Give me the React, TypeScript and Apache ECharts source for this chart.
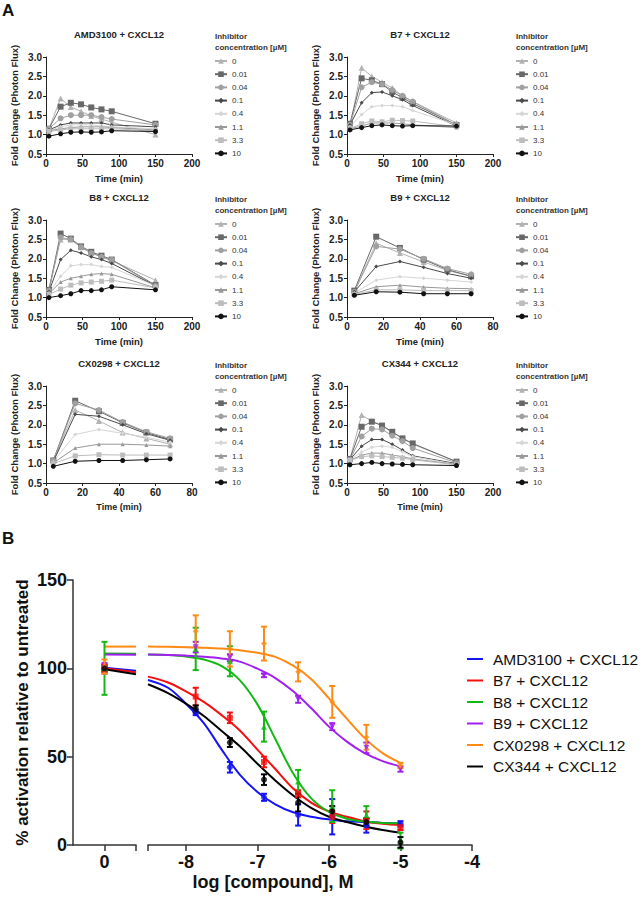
import React, { useEffect, useRef } from "react";
import * as echarts from "echarts";

const FONT = "'Liberation Sans', Arial, Helvetica, sans-serif";

// ---------------- Panel A data ----------------
const CONCENTRATIONS = ["0", "0.01", "0.04", "0.1", "0.4", "1.1", "3.3", "10"];
const TIMES_LONG = [4, 20, 34, 48, 62, 76, 90, 150];
const TIMES_SHORT = [4, 16, 29, 42, 55, 68];

const AMD3100_FOLD = [
  [1.15, 1.93, 1.71, 1.6, 1.48, 1.4, 1.32, 1.0],
  [1.15, 1.72, 1.82, 1.78, 1.7, 1.65, 1.6, 1.28],
  [1.15, 1.42, 1.5, 1.5, 1.5, 1.45, 1.4, 1.25],
  [1.12, 1.25, 1.3, 1.3, 1.3, 1.3, 1.25, 1.2],
  [1.1, 1.2, 1.25, 1.25, 1.25, 1.22, 1.2, 1.15],
  [1.1, 1.15, 1.18, 1.2, 1.2, 1.2, 1.18, 1.12],
  [1.08, 1.12, 1.15, 1.15, 1.15, 1.15, 1.15, 1.1],
  [0.96, 1.02, 1.06, 1.07, 1.06, 1.07, 1.1, 1.08],
];
const B7_FOLD = [
  [1.2, 2.72, 2.5, 2.35, 2.2, 2.0, 1.85, 1.3],
  [1.28, 2.45, 2.4, 2.3, 2.1, 1.95, 1.8, 1.25],
  [1.25, 2.22, 2.35, 2.3, 2.15, 2.0, 1.85, 1.25],
  [1.25, 1.82, 2.08, 2.1, 2.0, 1.9, 1.75, 1.22],
  [1.2, 1.52, 1.72, 1.75, 1.75, 1.72, 1.62, 1.25],
  [1.15, 1.22, 1.3, 1.3, 1.3, 1.28, 1.25, 1.18],
  [1.15, 1.28, 1.35, 1.33, 1.37, 1.36, 1.35, 1.2],
  [1.12, 1.18, 1.23, 1.25, 1.23, 1.22, 1.23, 1.22],
];
const B8_FOLD = [
  [1.2, 2.5, 2.5, 2.3, 2.15, 2.05, 1.95, 1.45],
  [1.2, 2.65, 2.52, 2.32, 2.18, 2.08, 1.98, 1.32],
  [1.18, 2.55, 2.5, 2.3, 2.15, 2.05, 1.97, 1.3],
  [1.15, 1.98, 2.22, 2.15, 2.05, 1.98, 1.88, 1.3],
  [1.12, 1.55, 1.82, 1.85, 1.85, 1.8, 1.78, 1.3],
  [1.1, 1.4, 1.5, 1.55, 1.6, 1.62, 1.6, 1.25],
  [1.08, 1.22, 1.32, 1.38, 1.4, 1.42, 1.45, 1.25],
  [1.0, 1.05, 1.1, 1.18, 1.18, 1.2, 1.28, 1.2],
];
const B9_FOLD = [
  [1.15, 2.4, 2.15, 1.92, 1.7, 1.55],
  [1.18, 2.57, 2.28, 1.98, 1.72, 1.55],
  [1.15, 2.32, 2.25, 2.0, 1.75, 1.6],
  [1.15, 1.8, 1.93, 1.78, 1.62, 1.5],
  [1.12, 1.45, 1.54, 1.5, 1.45, 1.4],
  [1.1, 1.28, 1.32, 1.27, 1.24, 1.23],
  [1.08, 1.2, 1.2, 1.18, 1.18, 1.18],
  [1.06, 1.15, 1.14, 1.1, 1.1, 1.1],
];
const CX0298_FOLD = [
  [1.1, 2.38, 2.1, 1.8, 1.65, 1.5],
  [1.08, 2.62, 2.35, 2.05, 1.8, 1.62],
  [1.08, 2.55, 2.38, 2.07, 1.82, 1.65],
  [1.05, 2.27, 2.22, 2.0, 1.77, 1.6],
  [1.05, 1.75, 1.88, 1.78, 1.68, 1.55],
  [1.02, 1.4, 1.5, 1.5, 1.48, 1.45],
  [1.0, 1.2, 1.23, 1.22, 1.22, 1.22],
  [0.93, 1.06, 1.08, 1.08, 1.1, 1.12],
];
const CX344_FOLD = [
  [1.12, 2.25, 2.1, 1.98, 1.8, 1.65, 1.5, 1.05],
  [1.12, 1.95, 2.08, 1.98, 1.82, 1.65, 1.52, 1.05],
  [1.1, 1.7, 1.9, 1.88, 1.72, 1.58, 1.4, 1.02],
  [1.1, 1.45, 1.62, 1.62, 1.5, 1.35, 1.2, 1.0],
  [1.1, 1.3, 1.42, 1.45, 1.42, 1.3, 1.18, 0.98],
  [1.08, 1.22, 1.27, 1.27, 1.22, 1.18, 1.12, 0.98],
  [1.08, 1.18, 1.2, 1.18, 1.16, 1.14, 1.1, 0.97],
  [0.97, 1.0, 1.03, 1.0, 0.99, 0.98, 0.97, 0.95],
];

// ---------------- Panel B data ----------------
const COMPOUNDS = [
  "AMD3100 + CXCL12",
  "B7 + CXCL12",
  "B8 + CXCL12",
  "B9 + CXCL12",
  "CX0298 + CXCL12",
  "CX344 + CXCL12",
];
const LOG_CONC = [-7.863, -7.385, -6.908, -6.431, -5.954, -5.477, -5.0];
const AMD3100_MEAN = [75, 44, 27, 17, 16, 11, 12];
const AMD3100_ERR = [1.5, 3, 2, 6, 10, 4, 1.5];
const B7_MEAN = [84, 72, 47, 29, 16, 14, 10];
const B7_ERR = [5, 3, 3, 2, 3.5, 5, 1.5];
const B8_MEAN = [111, 104, 67, 36, 22, 17, 2.5];
const B8_ERR = [12, 8.5, 8.5, 6.5, 9, 5, 4.5];
const B9_MEAN = [112, 106, 96, 82.5, 67, 55, 43];
const B9_ERR = [3, 2, 1, 2, 2, 3, 1.5];
const CX0298_MEAN = [121, 111, 114, 98, 81, 61, 45];
const CX0298_ERR = [9, 10, 9.6, 5.4, 9, 7, 1.5];
const CX344_MEAN = [77, 58, 37, 24, 19, 13, 1.5];
const CX344_ERR = [2, 2.5, 3, 5, 3, 2, 3];
// untreated control (plotted at 0)
const CONTROL_MEAN = [100, 100, 100, 100, 101, 100];
const CONTROL_ERR = [2, 2, 15, 3, 4, 1];

// fitted curves
const CURVE_X = [-8.53, -8.25, -8, -7.75, -7.5, -7.25, -7, -6.75, -6.5, -6.25, -6, -5.75, -5.5, -5.25, -5];
const AMD3100_CURVE = [93.4, 89, 80, 69, 54, 40, 30, 23, 18.5, 16, 14.5, 13.5, 13, 12.5, 12.3];
const B7_CURVE = [95.3, 92, 87, 81, 73.5, 65, 54, 43, 32, 24, 19, 16, 13.5, 12, 11.3];
const B8_CURVE = [107.8, 107.5, 106.7, 105, 101.3, 93.5, 79.6, 60, 40.5, 26.5, 18.7, 14.9, 13.3, 12.5, 12.3];
const B9_CURVE = [107.8, 107.6, 107.2, 106.6, 105.6, 103.8, 99.8, 94.5, 87, 77.5, 67, 58.5, 52, 47.5, 44.5];
const CX0298_CURVE = [112.3, 112.2, 112, 111.7, 111.2, 110.3, 108.8, 106.5, 101.5, 94, 83, 71.5, 60.5, 52, 46.5];
const CX344_CURVE = [91, 86, 80, 73, 64.5, 56, 46, 36.5, 28, 21, 16, 13, 10.5, 8.5, 7];
const CONTROL_CURVE_X = [0, 0.45];
const CONTROL_CURVE = [
  [100.3, 98.6],
  [100, 97.8],
  [108.4, 108.3],
  [107.8, 107.7],
  [112.3, 112.3],
  [99.5, 96.6],
];

// ---------------- styles / layout ----------------
const CONC_COLORS = ["#b2b2b2", "#686868", "#a0a0a0", "#4a4a4a", "#d6d6d6", "#999999", "#bdbdbd", "#111111"];
const CONC_SYMBOLS = ["triangle", "rect", "circle", "diamond", "diamond", "triangle", "rect", "circle"];
const CONC_SIZES = [6, 6, 6, 4, 4, 4, 5, 5];
const COMPOUND_COLORS = ["#1414f5", "#f50f0f", "#14b814", "#a020f0", "#ff8a14", "#000000"];
const COMPOUND_SYMBOLS = ["circle", "rect", "triangle", "triangle", "diamond", "circle"];
const COMPOUND_ROTATE = [0, 0, 0, 180, 0, 0];

const PANELS = [
  { title: "AMD3100 + CXCL12", times: TIMES_LONG, values: AMD3100_FOLD, xMax: 200, xInt: 50, col: 0, row: 0 },
  { title: "B7 + CXCL12", times: TIMES_LONG, values: B7_FOLD, xMax: 200, xInt: 50, col: 1, row: 0 },
  { title: "B8 + CXCL12", times: TIMES_LONG, values: B8_FOLD, xMax: 200, xInt: 50, col: 0, row: 1 },
  { title: "B9 + CXCL12", times: TIMES_SHORT, values: B9_FOLD, xMax: 80, xInt: 20, col: 1, row: 1 },
  { title: "CX0298 + CXCL12", times: TIMES_SHORT, values: CX0298_FOLD, xMax: 80, xInt: 20, col: 0, row: 2 },
  { title: "CX344 + CXCL12", times: TIMES_LONG, values: CX344_FOLD, xMax: 200, xInt: 50, col: 1, row: 2 },
];
const COL_LEFT = [46, 347];
const ROW_TOP = [57, 220, 386];
const GW = 146;
const GH = 97;

export default function App() {
  const ref = useRef<HTMLDivElement>(null);

  useEffect(() => {
    if (!ref.current) return;
    const chart = echarts.init(ref.current, null, { renderer: "svg" });

    const grids: any[] = [];
    const xAxes: any[] = [];
    const yAxes: any[] = [];
    const series: any[] = [];
    const legends: any[] = [];
    const graphics: any[] = [];

    const axisTextA = { fontFamily: FONT, fontWeight: "bold", color: "#222" };

    PANELS.forEach((p, i) => {
      const left = COL_LEFT[p.col];
      const top = ROW_TOP[p.row];
      grids.push({ left, top, width: GW, height: GH });
      xAxes.push({
        type: "value",
        gridIndex: i,
        min: 0,
        max: p.xMax,
        interval: p.xInt,
        axisLine: { show: true, onZero: false, lineStyle: { color: "#222", width: 1 } },
        axisTick: { show: true, length: 3, lineStyle: { color: "#222" } },
        axisLabel: { ...axisTextA, fontSize: 10, margin: 4 },
        splitLine: { show: false },
        name: "Time (min)",
        nameLocation: "middle",
        nameGap: 19,
        nameTextStyle: { ...axisTextA, fontSize: p.row === 2 ? 9 : 9.5 },
      });
      yAxes.push({
        type: "value",
        gridIndex: i,
        min: 0.5,
        max: 3.0,
        interval: 0.5,
        axisLine: { show: true, onZero: false, lineStyle: { color: "#222", width: 1 } },
        axisTick: { show: true, length: 3, lineStyle: { color: "#222" } },
        axisLabel: { ...axisTextA, fontSize: 10, margin: 4, formatter: (v: number) => v.toFixed(1) },
        splitLine: { show: false },
        name: "Fold Change (Photon Flux)",
        nameLocation: "middle",
        nameGap: 27,
        nameTextStyle: { ...axisTextA, fontSize: 9.5 },
      });
      CONCENTRATIONS.forEach((c, j) => {
        series.push({
          type: "line",
          name: c,
          xAxisIndex: i,
          yAxisIndex: i,
          data: p.times.map((t, k) => [t, p.values[j][k]]),
          symbol: CONC_SYMBOLS[j],
          symbolSize: CONC_SIZES[j],
          showSymbol: true,
          lineStyle: { width: 1, color: CONC_COLORS[j] },
          itemStyle: { color: CONC_COLORS[j] },
          z: 2 + (j === 7 ? 2 : 0),
        });
      });
      legends.push({
        data: CONCENTRATIONS,
        orient: "vertical",
        left: left + 168,
        top: top - 1,
        padding: 0,
        itemWidth: 12,
        itemHeight: 7,
        itemGap: 3.2,
        textStyle: { fontFamily: FONT, fontSize: 8, lineHeight: 10, color: "#333" },
        selectedMode: false,
      });
      graphics.push({
        type: "text",
        x: left + GW / 2,
        y: top - 23,
        style: {
          text: p.title,
          font: `bold 9.5px ${FONT}`,
          fill: "#222",
          align: "center",
          textAlign: "center",
          verticalAlign: "middle",
          textVerticalAlign: "middle",
        },
      });
      graphics.push({
        type: "text",
        x: left + 169,
        y: top - 26.5,
        style: {
          text: "Inhibitor\nconcentration [\u00b5M]",
          font: `bold 8px ${FONT}`,
          lineHeight: 11,
          fill: "#333",
          verticalAlign: "top",
          textVerticalAlign: "top",
        },
      });
    });

    // ---- Panel B ----
    const gi0 = PANELS.length; // control segment
    const gi1 = PANELS.length + 1; // log segment
    grids.push({ left: 73, top: 580, width: 63, height: 265 });
    grids.push({ left: 148, top: 580, width: 324, height: 265 });
    const axisB = { color: "#333", width: 1.5 };
    const labelB = { fontFamily: FONT, fontWeight: "bold", fontSize: 18, color: "#111", lineHeight: 18 };
    xAxes.push({
      type: "value",
      gridIndex: gi0,
      min: -0.45,
      max: 0.45,
      axisLine: { show: true, onZero: false, lineStyle: axisB },
      axisTick: { show: true, length: 6, lineStyle: axisB, customValues: [0, 0.45] },
      axisLabel: { ...labelB, margin: 8, customValues: [0] },
      splitLine: { show: false },
    });
    xAxes.push({
      type: "value",
      gridIndex: gi1,
      min: -8.53,
      max: -4,
      axisLine: { show: true, onZero: false, lineStyle: axisB },
      axisTick: { show: true, length: 6, lineStyle: axisB, customValues: [-8.53, -8, -7, -6, -5, -4] },
      axisLabel: { ...labelB, margin: 8, customValues: [-8, -7, -6, -5, -4] },
      splitLine: { show: false },
    });
    yAxes.push({
      type: "value",
      gridIndex: gi0,
      min: 0,
      max: 150,
      interval: 50,
      axisLine: { show: true, onZero: false, lineStyle: axisB },
      axisTick: { show: true, length: 6, lineStyle: axisB },
      axisLabel: { ...labelB, margin: 6 },
      splitLine: { show: false },
      name: "% activation relative to untreated",
      nameLocation: "middle",
      nameGap: 42,
      nameTextStyle: { fontFamily: FONT, fontWeight: "bold", fontSize: 17, color: "#111" },
    });
    yAxes.push({
      type: "value",
      gridIndex: gi1,
      min: 0,
      max: 150,
      show: false,
      splitLine: { show: false },
    });

    const means = [AMD3100_MEAN, B7_MEAN, B8_MEAN, B9_MEAN, CX0298_MEAN, CX344_MEAN];
    const errs = [AMD3100_ERR, B7_ERR, B8_ERR, B9_ERR, CX0298_ERR, CX344_ERR];
    const curves = [AMD3100_CURVE, B7_CURVE, B8_CURVE, B9_CURVE, CX0298_CURVE, CX344_CURVE];

    const errorBar = (name: string, data: number[][], color: string, axis: number) => ({
      type: "custom",
      name,
      xAxisIndex: axis,
      yAxisIndex: axis,
      z: 5,
      clip: false,
      encode: { x: 0, y: 1 },
      data,
      renderItem: (_params: any, api: any) => {
        const x = api.value(0);
        const y = api.value(1);
        const e = api.value(2);
        const hi = api.coord([x, y + e]);
        const lo = api.coord([x, y - e]);
        const w = 3;
        const st = { stroke: color, lineWidth: 2 };
        return {
          type: "group",
          children: [
            { type: "line", shape: { x1: hi[0], y1: hi[1], x2: lo[0], y2: lo[1] }, style: st },
            { type: "line", shape: { x1: hi[0] - w, y1: hi[1], x2: hi[0] + w, y2: hi[1] }, style: st },
            { type: "line", shape: { x1: lo[0] - w, y1: lo[1], x2: lo[0] + w, y2: lo[1] }, style: st },
          ],
        };
      },
    });

    COMPOUNDS.forEach((name, k) => {
      const color = COMPOUND_COLORS[k];
      series.push({
        type: "line",
        name,
        xAxisIndex: gi1,
        yAxisIndex: gi1,
        data: CURVE_X.map((x, i) => [x, curves[k][i]]),
        symbol: "none",
        smooth: 0.35,
        lineStyle: { width: 2, color },
        itemStyle: { color },
        z: 3,
      });
      series.push({
        type: "line",
        name,
        xAxisIndex: gi0,
        yAxisIndex: gi0,
        data: CONTROL_CURVE_X.map((x, i) => [x, CONTROL_CURVE[k][i]]),
        symbol: "none",
        lineStyle: { width: 2, color },
        itemStyle: { color },
        z: 3,
      });
      series.push({
        type: "scatter",
        name: name + " points",
        xAxisIndex: gi1,
        yAxisIndex: gi1,
        data: LOG_CONC.map((x, i) => [x, means[k][i]]),
        symbol: COMPOUND_SYMBOLS[k],
        symbolRotate: COMPOUND_ROTATE[k],
        symbolSize: 6,
        itemStyle: { color },
        z: 6,
      });
      series.push({
        type: "scatter",
        name: name + " control",
        xAxisIndex: gi0,
        yAxisIndex: gi0,
        data: [[0, CONTROL_MEAN[k]]],
        symbol: COMPOUND_SYMBOLS[k],
        symbolRotate: COMPOUND_ROTATE[k],
        symbolSize: 6,
        itemStyle: { color },
        z: 6,
      });
      series.push(
        errorBar(name + " err", LOG_CONC.map((x, i) => [x, means[k][i], errs[k][i]]), color, gi1)
      );
      series.push(errorBar(name + " control err", [[0, CONTROL_MEAN[k], CONTROL_ERR[k]]], color, gi0));
    });

    legends.push({
      data: COMPOUNDS.map((n) => ({ name: n, icon: "rect" })),
      orient: "vertical",
      left: 467,
      top: 650,
      padding: 0,
      itemWidth: 16,
      itemHeight: 2,
      itemGap: 3.5,
      selectedMode: false,
      textStyle: { fontFamily: FONT, fontSize: 15.5, lineHeight: 18, color: "#111", padding: [0, 0, 0, 5] },
    });

    graphics.push({
      type: "text",
      x: 2,
      y: 2,
      style: { text: "A", font: `bold 17px ${FONT}`, fill: "#111", verticalAlign: "top", textVerticalAlign: "top" },
    });
    graphics.push({
      type: "text",
      x: 2,
      y: 530,
      style: { text: "B", font: `bold 17px ${FONT}`, fill: "#111", verticalAlign: "top", textVerticalAlign: "top" },
    });
    graphics.push({
      type: "text",
      x: 273,
      y: 882,
      style: {
        text: "log [compound], M",
        font: `bold 18px ${FONT}`,
        fill: "#111",
        align: "center",
        textAlign: "center",
        verticalAlign: "middle",
        textVerticalAlign: "middle",
      },
    });

    chart.setOption({
      animation: false,
      backgroundColor: "#ffffff",
      textStyle: { fontFamily: FONT },
      grid: grids,
      xAxis: xAxes,
      yAxis: yAxes,
      legend: legends,
      series,
      graphic: graphics,
    });

    return () => chart.dispose();
  }, []);

  return (
    <div
      ref={ref}
      style={{ position: "absolute", left: 0, top: 0, width: 642, height: 900, background: "#fff" }}
    />
  );
}
